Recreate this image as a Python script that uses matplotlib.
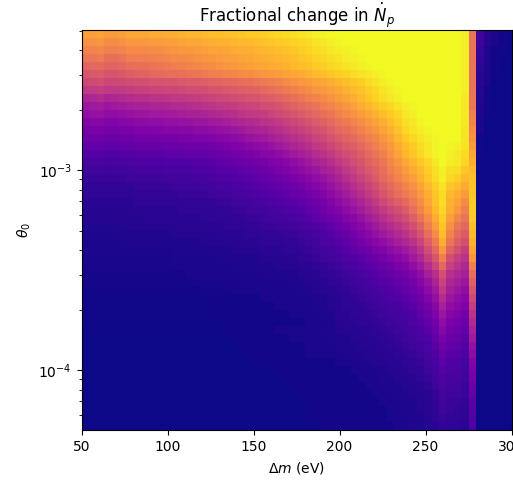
import numpy as np
import matplotlib
matplotlib.use('Agg')
import matplotlib.pyplot as plt

# cell edges of the grid
dm_edges = 50 + 4.33 * np.arange(59)          # eV
theta_edges = np.logspace(-4.3, -2.3, 51)

# colour level (percent of colour range), top row first,
# one entry per dm cell; "v*n" means v repeated n times
rows = [
    "78 78 79 77 77 78 80 80 80 81 81 82 82 83 84 84 85 86 86 87 87 88 89 89 90 91 92 93 94 95 96 98 99 100 100*17 97 65 10 4 2 1 0",
    "74 74 75 73 73 74 76 76 76 77 77 78 78 79 80 80 81 82 83 83 84 85 85 86 87 88 89 90 91 92 93 95 96 98 99 100*16 97 65 9 4 2 1 0",
    "70 70 71 69 69 70 72 72 72 73 73 74 75 76 76 77 78 79 79 80 81 82 82 83 84 85 86 87 88 90 91 93 94 96 97 98 99 100*14 97 65 8 3 1 1 0",
    "66 66 67 64 64 65 68 68 68 69 70 71 72 72 73 74 75 76 77 78 78 79 80 81 82 83 84 85 86 88 89 91 92 94 95 97 98 99 100*13 97 65 7 3 1 0 0",
    "60 61 62 60 60 61 63 64 64 65 66 67 68 69 70 71 72 73 74 75 76 77 78 79 80 81 82 83 85 86 87 89 90 92 93 95 96 98 99 100*12 97 65 6 2 1 0 0",
    "55 56 57 55 55 56 58 59 60 61 62 63 63 64 65 66 67 68 69 70 71 72 73 74 75 76 77 79 80 81 83 85 86 88 90 91 93 95 96 98 99 100*10 97 65 5 2 1 0 0",
    "50 51 52 50 50 51 52 53 53 54 54 55 55 56 57 57 58 59 60 61 62 63 64 65 67 68 70 72 74 76 77 79 80 82 84 86 88 90 93 95 97 99 100 100*8 97 65 5 2 0 0 0",
    "45 46 47 45 45 46 47 48 48 49 49 50 50 51 52 52 53 54 55 56 57 58 59 60 62 63 65 67 69 71 73 75 76 78 80 83 85 87 90 92 95 97 99 100*8 97 65 4 1 0 0 0",
    "38 39 40 38 39 40 41 42 42 43 43 44 45 45 46 47 48 49 50 51 52 53 54 55 57 58 60 62 64 66 68 70 72 74 77 79 82 85 88 91 94 96 98 100*8 96 66 4 1 0 0 0",
    "33 34 35 33 34 35 36 37 37 38 38 39 40 40 41 42 43 44 45 46 47 48 49 50 52 53 55 57 59 61 63 65 68 70 73 75 78 81 84 87 90 92 95 97 99 100*6 96 66 3 1 0 0 0",
    "30 31 32 30 30 31 32 33 33 34 34 35 35 36 37 37 38 39 40 41 42 44 45 46 47 49 51 53 55 57 59 61 64 66 69 72 74 77 80 83 86 89 92 96 98 100*6 96 68 3 1 0 0 0",
    "26 27 28 26 26 27 28 29 29 30 30 31 31 32 32 33 33 34 35 36 38 39 40 41 43 44 46 48 50 52 54 57 59 62 65 67 70 73 76 79 82 86 90 94 96 99 100*5 96 70 2 0 0 0 0",
    "23 24 24 23 23 24 24 25 25 26 26 27 27 28 28 29 29 30 31 32 33 34 36 37 38 40 42 44 46 48 50 53 55 58 61 63 66 69 72 75 79 83 87 92 95 97 99 100*4 95 72 2 0 0 0 0",
    "20 21 21 20 20 21 21 22 22 22 23 23 23 24 24 25 25 26 27 28 29 30 32 33 34 36 38 40 42 44 46 49 51 54 57 60 62 65 68 71 75 79 84 89 92 95 97 99 100*3 95 74 1 0 0 0 0",
    "17 18 18 17 17 18 18 19 19 19 19 20 20 20 21 21 21 22 23 24 25 26 28 29 30 32 34 36 38 40 42 45 47 50 53 56 58 61 65 68 72 76 81 86 89 93 96 99 100 99 98 95 77 1 0 0 0 0",
    "14 15 15 14 14 15 15 16 16 16 16 17 17 17 18 18 18 19 20 21 22 23 24 25 27 28 30 32 34 36 38 41 43 46 49 52 55 58 62 65 69 74 79 84 88 92 96 99 100 98 96 93 80 1 0 0 0 0",
    "11 12 12 11 11 12 12 13 13 13 13 14 14 14 14 15 15 16 17 18 19 20 21 22 23 25 26 28 30 32 34 37 39 42 45 48 52 55 59 62 66 71 75 80 84 88 92 96 100 97 96 92 82 0 0 0 0 0",
    "9 10 10 9 9 10 10 11 11 11 11 12 12 12 12 13 13 14 15 16 16 17 18 19 21 22 24 25 27 29 31 33 36 38 41 45 48 52 56 59 63 68 72 77 81 85 90 94 98 94 93 88 85 0 0 0 0 0",
    "8 8 8 8 8 8 9 9 9 9 9 10 10 10 10 11 11 12 13 13 14 15 16 17 18 19 21 22 24 26 28 30 32 35 38 42 45 49 53 57 62 66 70 74 78 83 88 93 97 92 90 85 87 0 0 0 0 0",
    "7 7 7 7 7 7 7 8 8 8 8 8 9 9 9 9 10 10 11 11 12 13 14 15 16 17 18 20 21 23 25 27 29 32 35 38 42 45 49 53 58 62 66 70 74 79 85 90 95 88 86 81 88 0 0 0 0 0",
    "6 6 6 6 6 6 6 7 7 7 7 7 7 8 8 8 8 9 9 10 11 11 12 13 14 15 16 17 19 20 22 24 26 29 32 35 39 42 46 50 55 59 63 67 71 76 82 88 93 85 82 77 88 0 0 0 0 0",
    "5 5 5 5 5 5 5 6 6 6 6 6 6 6 7 7 7 7 8 8 9 10 10 11 12 13 14 15 16 17 19 21 23 26 29 32 35 38 42 46 51 55 58 62 67 73 80 87 93 83 79 72 89 0 0 0 0 0",
    "4 4 4 4 4 4 5 5 5 5 5 5 5 6 6 6 6 6 7 7 8 8 9 10 10 11 12 13 14 15 17 19 21 24 26 29 32 35 39 42 46 50 53 57 63 70 77 85 92 82 76 68 90 0 0 0 0 0",
    "4 4 4 4 4 4 4 4 5 5 5 5 5 5 5 5 6 6 6 6 7 7 8 8 9 10 10 11 12 13 15 17 19 21 23 26 28 31 35 38 42 45 49 52 58 65 73 81 90 78 71 65 89 0 0 0 0 0",
    "3.5*6 4*7 5*6 6 6 6 7 7 8 8 9 9 10 11 12 14 15 17 20 22 25 28 31 34 38 41 44 48 53 59 68 77 88 74 66 61 87 0*5",
    "3*12 4*5 4 5 5 5 5 6 6 7 7 7 8 8 9 10 12 13 15 17 19 22 25 28 31 34 37 40 43 48 54 63 72 86 70 62 57 85 0*5",
    "2.5*5 3*11 4*5 5*3 6*3 7 7 8 9 10 12 13 15 17 19 22 25 27 30 33 36 39 43 49 58 67 82 66 58 53 83 0*5",
    "2.2*7 2.5*5 3*8 4*4 5 5 5 6 6 7 8 9 10 11 13 15 17 19 21 24 26 29 31 34 38 44 52 61 76 59 53 47 80 0*5",
    "1.9*12 2.3*6 3*6 4 4 4 5 5 6 7 8 9 10 11 13 14 16 18 20 22 25 27 30 34 39 47 55 68 53 47 43 75 0*5",
    "1.6*12 2*8 3*6 4*3 5 5 6 7 8 9 11 12 14 16 17 19 21 24 26 30 34 41 49 61 48 43 39 69 0*5",
    "1.4*14 2*10 3*5 4 4 5 6 7 8 9 10 12 13 15 17 19 21 23 26 30 36 42 53 42 39 36 63 0*5",
    "1.2*15 1.7*6 2*6 3*3 4 4 5 6 7 8 9 10 11 13 15 16 18 20 23 27 32 38 49 39 36 33 59 0*5",
    "1*16 1.5*4 2*9 3*2 4*2 5 6 7 8 9 10 11 13 14 16 18 21 24 29 34 45 36 33 30 55 0*5",
    "0.85*16 1*8 2*7 3*2 4 5 6 7 8 9 10 11 13 14 16 18 21 26 31 41 33 30 27 51 0*5",
    "0.7*16 1*10 2*5 3*2 4 5 6 6 7 8 9 10 11 12 14 16 19 23 28 37 30 28 25 47 0*5",
    "0.6*17 1*11 2*4 3*2 5 5 6 6 7 8 9 10 11 12 14 17 21 25 33 27 25 22 43 0*5",
    "0.5*18 1*12 2*3 3 4 5 5 6 6 7 8 9 10 11 13 15 18 22 30 24 23 20 40 0*5",
    "0.4*19 1*7 2*6 3*2 4 4 4 5 5 6 7 8 9 10 11 13 16 20 27 22 21 18 37 0*5",
    "0.3*20 1*8 2*5 3*3 4 4 5 5 6 7 8 9 10 12 14 18 24 20 19 16 34 0*5",
    "0.25*21 1*9 2*4 3*3 4 4 5 5 6 7 8 9 10 12 16 21 18 17 14 31 0*5",
    "0.2*22 1*8 2*5 3*3 4 4 5 5 6 7 8 9 11 14 19 16 15 13 29 0*5",
    "0.15*23 1*11 2*3 3*2 4*2 5*2 6 7 8 10 12 17 14 13 11 26 0*5",
    "0.1*25 1*11 2*3 3*2 4*2 5 6 7 9 11 15 13 12 10 24 0*5",
    "0.08*26 1*11 2*3 3*2 4*2 5 6 8 10 13 11 11 9 22 0*5",
    "0.05*27 1*11 2*2 3*3 4*2 5 6 9 12 10 10 8 20 0*5",
    "0.03*28 1*11 2*3 3*2 4*2 5 7 10 9 9 8 18 0*5",
    "0*29 1*11 2*3 3*2 4 5 7 10 8 8 7 16 0*5",
    "0*30 1*11 2*2 3*2 4 5 6 9 8 7 6 15 0*5",
    "0*30 1*11 2*3 3*2 4 6 8 7 7 6 14 0*5",
    "0*32 1*10 2*2 3*2 4 5 7 6 6 5 13 0*5",
]


def parse(row):
    out = []
    for tok in row.split():
        if '*' in tok:
            v, n = tok.split('*')
            out += [float(v)] * int(n)
        else:
            out.append(float(tok))
    return out


grid = [parse(r) for r in rows]
bad = [(i, len(g)) for i, g in enumerate(grid) if len(g) != len(dm_edges) - 1]
if bad:
    raise ValueError("bad row lengths: %s" % bad)

z = np.array(grid[::-1], dtype=float) / 100.0

fig = plt.figure(figsize=(5.13, 4.82), dpi=100)
ax = fig.add_axes([81.7 / 513, 51.7 / 482, 429.8 / 513, 400 / 482])
ax.pcolormesh(dm_edges, theta_edges, z, cmap='plasma', vmin=0, vmax=1)
ax.set_yscale('log')
ax.set_xlim(50, 300)
ax.set_ylim(theta_edges[0], theta_edges[-1])
ax.set_xlabel(r'$\Delta m$ (eV)')
ax.set_ylabel(r'$\theta_0$')
ax.set_title(r'Fractional change in $\dot{N}_p$')

fig.savefig('out.png', dpi=100)
